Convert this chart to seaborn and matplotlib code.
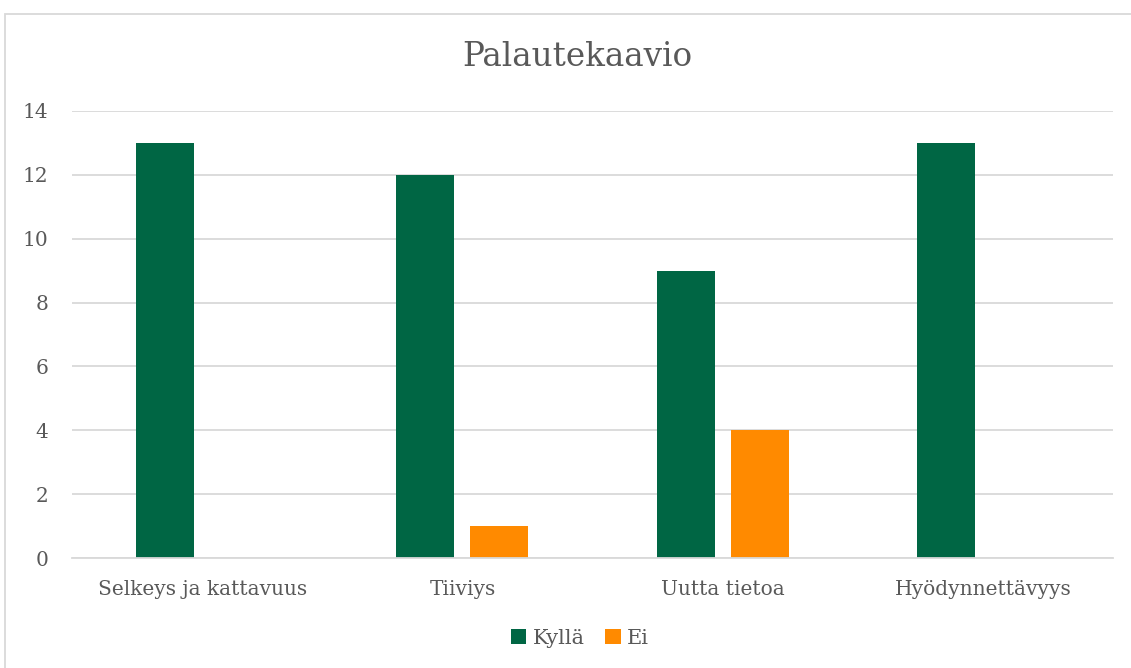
import matplotlib
matplotlib.use("Agg")
import matplotlib.pyplot as plt
import seaborn as sns
import pandas as pd
from matplotlib.patches import Rectangle

categories = ["Selkeys ja kattavuus", "Tiiviys", "Uutta tietoa", "Hyödynnettävyys"]
kylla = [13, 12, 9, 13]
ei = [0, 1, 4, 0]
series_names = ["Kyllä", "Ei"]
yticks = [0, 2, 4, 6, 8, 10, 12, 14]

df = pd.DataFrame({
    "Kategoria": categories * 2,
    "Arvo": kylla + ei,
    "Sarja": [series_names[0]] * len(categories) + [series_names[1]] * len(categories),
})

sns.set_theme(style="white")
plt.rcParams["font.family"] = ["DejaVu Serif"]
text_color = "#595959"

fig = plt.figure(figsize=(11.31, 6.68), dpi=100)
ax = fig.add_axes([72 / 1131, 110 / 668, (1113 - 72) / 1131, (558 - 111) / 668])

palette = {"Kyllä": "#006644", "Ei": "#FF8A00"}
sns.barplot(data=df, x="Kategoria", y="Arvo", hue="Sarja", palette=palette,
            order=categories, hue_order=series_names, width=0.569, gap=0.216,
            saturation=1, linewidth=0, ax=ax, legend=True)

ax.set_ylim(0, 14)
ax.set_yticks(yticks)
ax.set_yticklabels([str(t) for t in yticks])
ax.yaxis.grid(True, color="#D9D9D9", linewidth=1.3)
ax.set_axisbelow(True)
for s in ["top", "right", "left"]:
    ax.spines[s].set_visible(False)
ax.spines["bottom"].set_color("#D9D9D9")
ax.spines["bottom"].set_linewidth(1.3)
ax.set_xlabel("")
ax.set_ylabel("")
ax.tick_params(axis="both", length=0, colors=text_color, labelsize=14.5)
ax.tick_params(axis="y", pad=17)
ax.tick_params(axis="x", pad=16)
for lbl in ax.get_xticklabels() + ax.get_yticklabels():
    lbl.set_color(text_color)

ax.legend_.remove()
handles, labels = ax.get_legend_handles_labels()
fig.legend(handles, labels, loc="center", bbox_to_anchor=(580 / 1131, 30 / 668),
           ncol=2, frameon=False, fontsize=15, handlelength=0.75, handleheight=0.75,
           handletextpad=0.3, columnspacing=1.0, labelcolor=text_color)

fig.text(577 / 1131, (668 - 57) / 668, "Palautekaavio", ha="center", va="center",
         fontsize=23.5, color=text_color)

fig.patches.append(Rectangle((4.5 / 1131, -0.1), 1.2, (668 - 14.5) / 668 + 0.1,
                             transform=fig.transFigure, fill=False,
                             edgecolor="#D9D9D9", linewidth=1.3))

fig.savefig("out.png", dpi=100)
